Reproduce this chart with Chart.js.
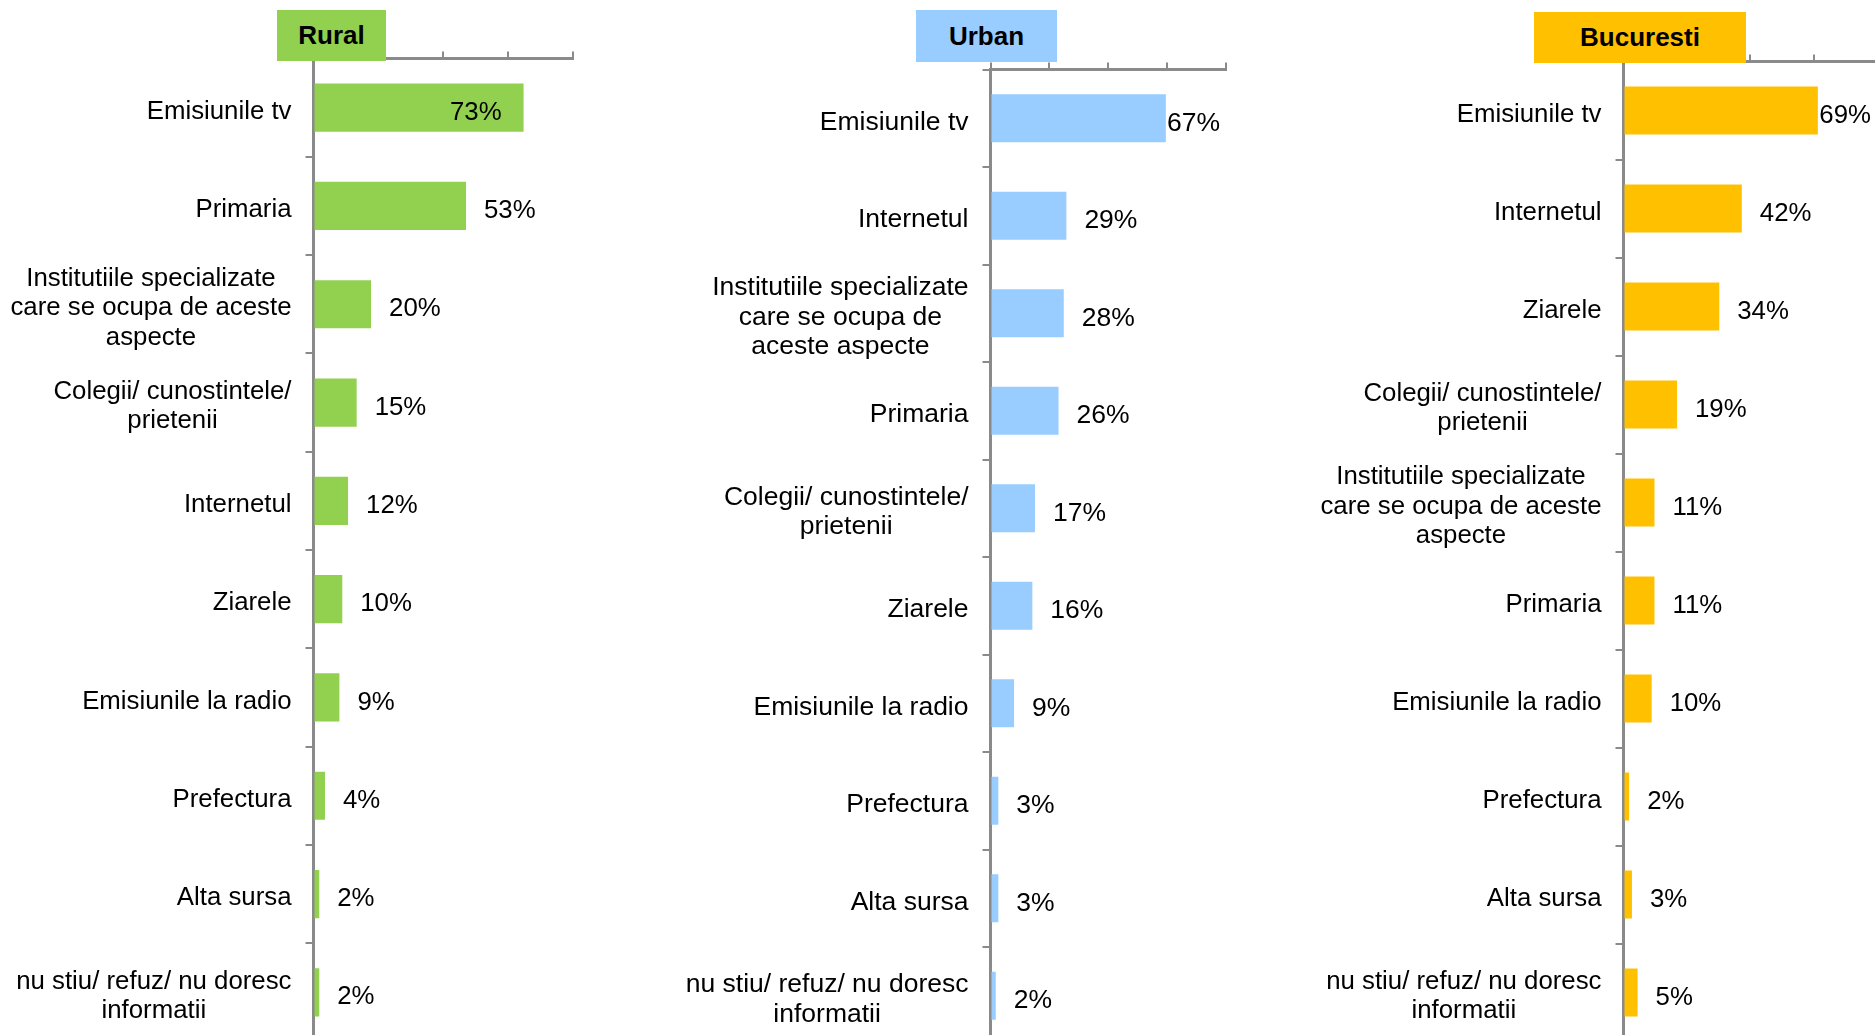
<!DOCTYPE html>
<html>
<head>
<meta charset="utf-8">
<script src="https://cdn.jsdelivr.net/npm/chart.js@4.4.1/dist/chart.umd.min.js"></script>
<style>
  html, body { margin: 0; padding: 0; background: #fff; width: 1875px; height: 1035px; overflow: hidden; }
  canvas { position: absolute; top: 0; }
  .hdr {
    position: absolute; z-index: 5; display: flex; align-items: center; justify-content: center;
    font: bold 26px "Liberation Sans", Arial, sans-serif; color: #000;
  }
</style>
</head>
<body>
<div class="hdr" style="left:277px;top:10px;width:109px;height:51px;background:#92d050">Rural</div>
<div class="hdr" style="left:916px;top:10px;width:141px;height:52px;background:#99ccff">Urban</div>
<div class="hdr" style="left:1534px;top:12px;width:212px;height:51px;background:#ffc000">Bucuresti</div>
<canvas id="c-rural" width="640" height="1050" style="left:0px"></canvas>
<canvas id="c-urban" width="620" height="1050" style="left:640px"></canvas>
<canvas id="c-buc" width="620" height="1050" style="left:1260px"></canvas>
<script>
// ===== Surse de informare — Rural / Urban / Bucuresti =====

const INST3 = ['Institutiile specializate', 'care se ocupa de aceste', 'aspecte'];
const COLEGII = ['Colegii/ cunostintele/', 'prietenii'];
const NUSTIU = ['nu stiu/ refuz/ nu doresc', 'informatii'];

const ruralLabels = ['Emisiunile tv', 'Primaria', INST3, COLEGII, 'Internetul', 'Ziarele',
  'Emisiunile la radio', 'Prefectura', 'Alta sursa', NUSTIU];
const ruralValues = [73, 53, 20, 15, 12, 10, 9, 4, 2, 2];

const urbanLabels = ['Emisiunile tv', 'Internetul',
  ['Institutiile specializate', 'care se ocupa de', 'aceste aspecte'],
  'Primaria', COLEGII, 'Ziarele', 'Emisiunile la radio', 'Prefectura', 'Alta sursa', NUSTIU];
const urbanValues = [67, 29, 28, 26, 17, 16, 9, 3, 3, 2];

const bucLabels = ['Emisiunile tv', 'Internetul', 'Ziarele', COLEGII, INST3, 'Primaria',
  'Emisiunile la radio', 'Prefectura', 'Alta sursa', NUSTIU];
const bucValues = [69, 42, 34, 19, 11, 11, 10, 2, 3, 5];

const AXIS_MAX = 90;
const AXIS_STEP = 22.5;

const AXIS = '#8a8a8a';
const FONT = '"Liberation Sans", Arial, sans-serif';

// etichete categorii (centrate pe rand, bloc aliniat la axa) + valori %
const textPlugin = {
  id: 'sideText',
  afterDraw(chart, args, o) {
    const { ctx, chartArea } = chart;
    const ys = chart.scales.y;
    const bars = chart.getDatasetMeta(0).data;
    ctx.save();
    ctx.fillStyle = '#000';
    ctx.textBaseline = 'middle';
    ctx.font = o.size + 'px ' + FONT;
    chart.data.labels.forEach((lab, i) => {
      const lines = Array.isArray(lab) ? lab : [lab];
      const w = Math.max(...lines.map(l => ctx.measureText(l).width));
      const cx = chartArea.left - o.gap - w / 2;
      const cy = ys.getPixelForValue(i) + 4;
      ctx.textAlign = 'center';
      lines.forEach((l, k) => ctx.fillText(l, cx, cy + (k - (lines.length - 1) / 2) * o.lineHeight));
    });
    const vals = chart.data.datasets[0].data;
    ctx.textAlign = 'left';
    bars.forEach((b, i) => {
      const t = vals[i] + '%';
      const w = ctx.measureText(t).width;
      let x = b.x + 18;
      if (x + w > chartArea.right - 6) {
        x = o.inside ? b.x - 22 - w : chartArea.right - 6 - w;
      }
      ctx.fillText(t, x, b.y + 5);
    });
    ctx.restore();
  }
};

function drawPanel(id, labels, values, color, L) {
  const cv = document.getElementById(id);
  new Chart(cv, {
    type: 'bar',
    data: {
      labels,
      datasets: [{ data: values, backgroundColor: color, barPercentage: 0.49, categoryPercentage: 1 }]
    },
    options: {
      indexAxis: 'y',
      responsive: false,
      animation: false,
      layout: { padding: { left: 0, top: 0, right: L.padR, bottom: L.padB } },
      plugins: {
        legend: { display: false },
        tooltip: { enabled: false },
        sideText: { size: L.size, gap: 22, lineHeight: 29.5, inside: L.inside }
      },
      scales: {
        x: {
          position: 'top', min: 0, max: AXIS_MAX, z: 1,
          ticks: { display: false, stepSize: AXIS_STEP },
          grid: { drawOnChartArea: false, drawTicks: true, tickLength: 7, color: AXIS, lineWidth: 2 },
          border: { display: true, color: AXIS, width: 3 },
          afterFit: s => { s.height = L.top; }
        },
        y: {
          z: 1,
          ticks: { display: false },
          grid: { offset: true, drawOnChartArea: false, drawTicks: true, tickLength: 8, color: AXIS, lineWidth: 2 },
          border: { display: true, color: AXIS, width: 3 },
          afterFit: s => { s.width = L.left; }
        }
      }
    },
    plugins: [textPlugin]
  });
}

drawPanel('c-rural', ruralLabels, ruralValues, '#92d050',
  { left: 313.5, top: 58.5, padR: 67.5, padB: 8.5, size: 25.8, inside: true });
drawPanel('c-urban', urbanLabels, urbanValues, '#99ccff',
  { left: 350.5, top: 69.5, padR: 34, padB: 5.5, size: 26.5, inside: false });
drawPanel('c-buc', bucLabels, bucValues, '#ffc000',
  { left: 363.5, top: 61.5, padR: 3, padB: 8.5, size: 25.8, inside: false });
</script>
</body>
</html>
